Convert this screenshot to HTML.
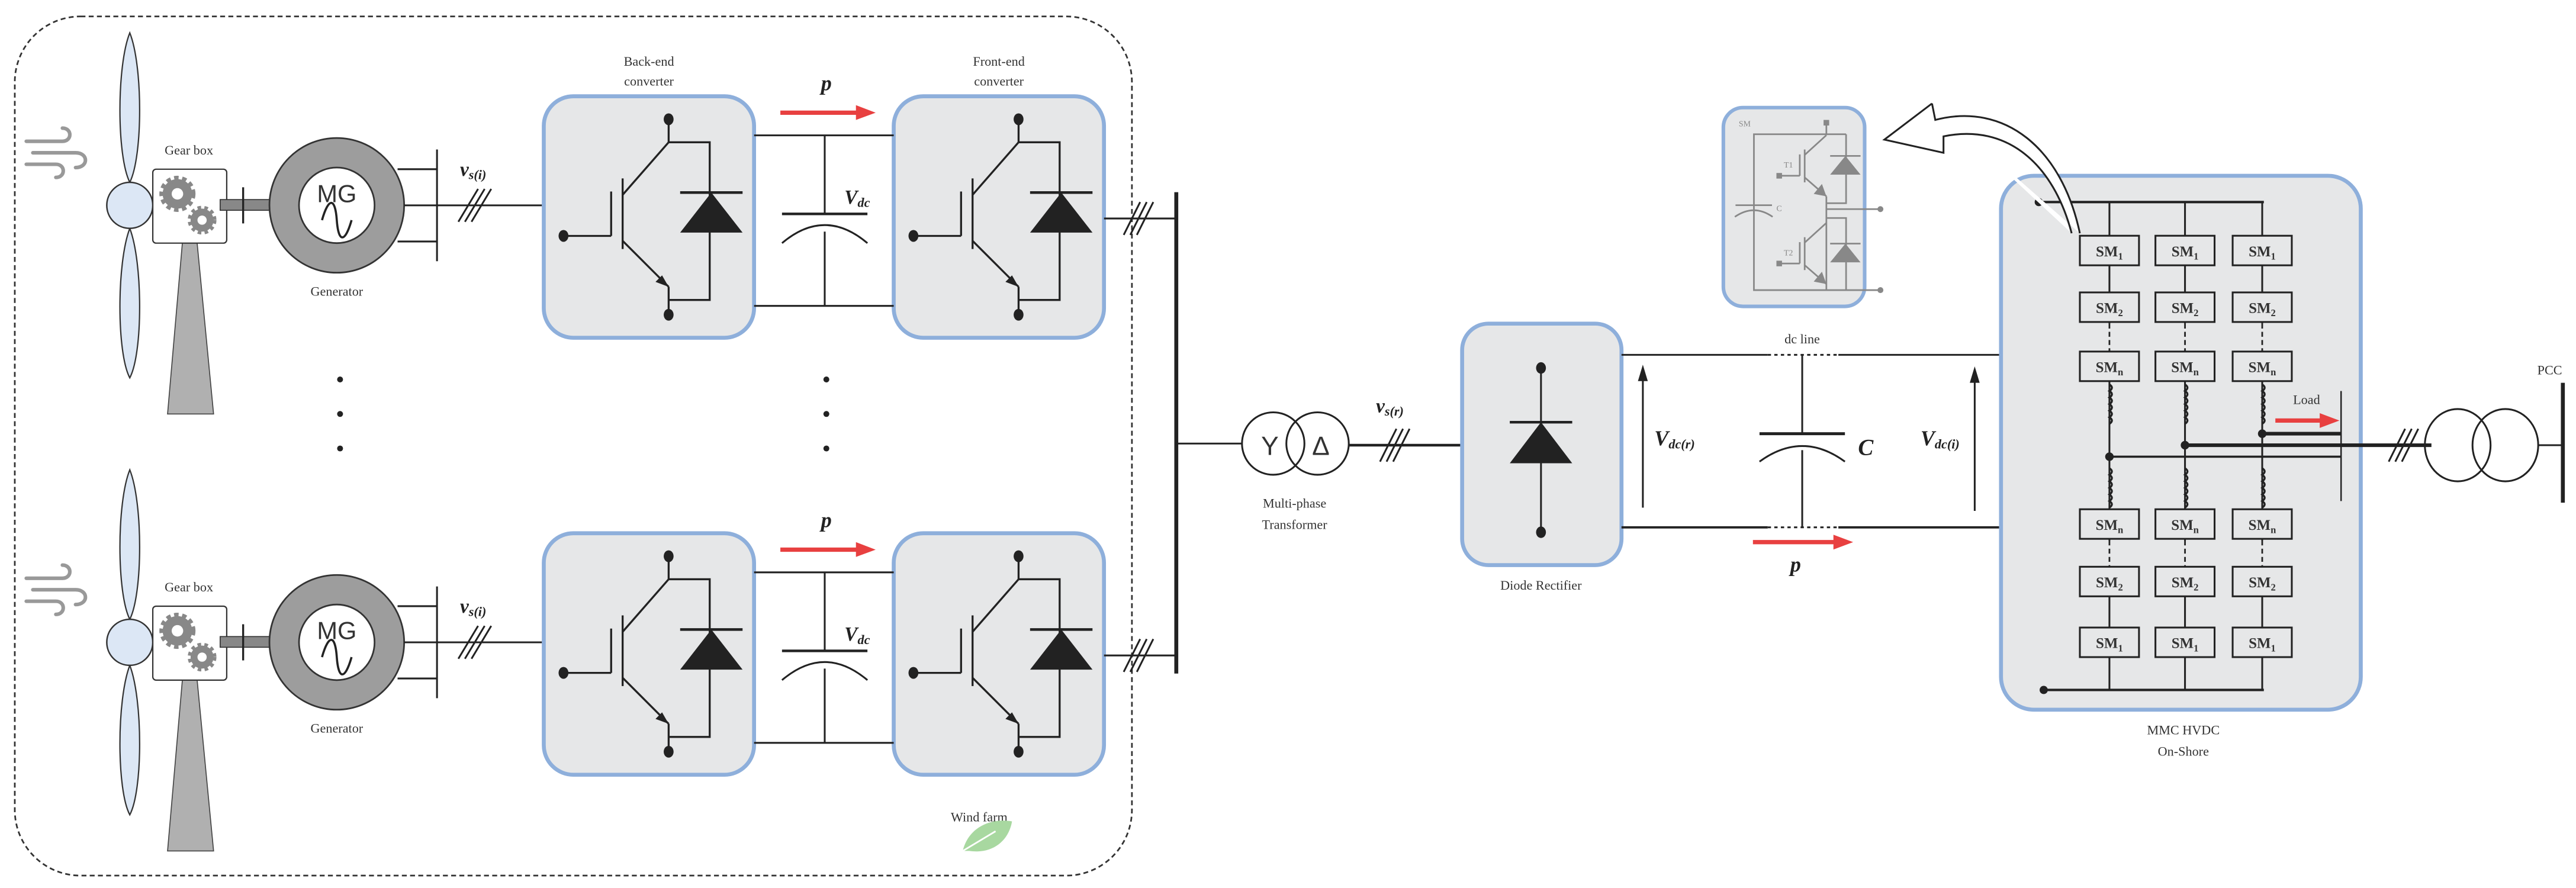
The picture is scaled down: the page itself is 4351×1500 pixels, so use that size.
<!DOCTYPE html>
<html><head><meta charset="utf-8"><style>
html,body{margin:0;padding:0;background:#fff;}
svg{display:block;}
text{font-family:"Liberation Serif",serif;fill:#333;}
.m{font-style:italic;font-weight:bold;fill:#222;}
</style></head><body>
<svg width="4351" height="1500" viewBox="0 0 1568 540.55" preserveAspectRatio="none" xmlns="http://www.w3.org/2000/svg">
<defs>
<g id="conv">
  <rect x="0" y="0" width="128" height="147" rx="18" fill="#e6e7e8" stroke="#8eafdb" stroke-width="2.4"/>
  <g stroke="#222" stroke-width="1.2" fill="none">
    <line x1="76" y1="14" x2="76" y2="28"/>
    <line x1="76" y1="28" x2="48" y2="60"/>
    <line x1="48" y1="50" x2="48" y2="93"/>
    <line x1="41" y1="58" x2="41" y2="85"/>
    <line x1="41" y1="85" x2="12" y2="85"/>
    <line x1="48" y1="88" x2="76" y2="116"/>
    <line x1="76" y1="116" x2="76" y2="133"/>
    <polyline points="76,28 101,28 101,124 76,124"/>
    <line x1="83" y1="58.6" x2="121" y2="58.6" stroke-width="1.6"/>
  </g>
  <polygon points="76,116 68,113 72,109" fill="#222"/>
  <polygon points="102,58.6 83,83 121,83" fill="#222"/>
  <ellipse cx="76" cy="14" rx="3" ry="3.6" fill="#222"/>
  <ellipse cx="76" cy="133" rx="3" ry="3.6" fill="#222"/>
  <ellipse cx="12" cy="85" rx="3" ry="3.6" fill="#222"/>
</g>
<g id="turb">
  <path d="M79,20 C71,40 71,95 79,111 C87,95 87,40 79,20Z" fill="#dce7f5" stroke="#333" stroke-width="0.8"/>
  <path d="M79,139 C71,160 71,215 79,230 C87,215 87,160 79,139Z" fill="#dce7f5" stroke="#333" stroke-width="0.8"/>
  <polygon points="111,148 120,148 130,252 102,252" fill="#b0b0b0" stroke="#444" stroke-width="0.6"/>
  <ellipse cx="79" cy="125" rx="14" ry="14" fill="#dce7f5" stroke="#333" stroke-width="0.9"/>
  <rect x="93" y="103" width="45" height="45" rx="2" fill="#fff" stroke="#333" stroke-width="0.8"/>
  <circle cx="108" cy="118" r="9" fill="#888" stroke="#888" stroke-width="4" stroke-dasharray="2.5 2"/>
  <circle cx="108" cy="118" r="3.5" fill="#fff"/>
  <circle cx="123" cy="134" r="7" fill="#888" stroke="#888" stroke-width="3.5" stroke-dasharray="2 1.8"/>
  <circle cx="123" cy="134" r="2.8" fill="#fff"/>
  <text x="115" y="94" font-size="8" text-anchor="middle">Gear box</text>
  <rect x="134" y="121.5" width="30" height="6.5" fill="#888" stroke="#333" stroke-width="0.6"/>
  <line x1="148" y1="114" x2="148" y2="136" stroke="#222" stroke-width="1.2"/>
  <circle cx="205" cy="125" r="41" fill="#9d9d9d" stroke="#333" stroke-width="1"/>
  <circle cx="205" cy="125" r="23" fill="#fff" stroke="#333" stroke-width="1"/>
  <text x="205" y="123" font-size="15" text-anchor="middle" font-family="Liberation Sans,sans-serif" fill="#333" style="font-family:'Liberation Sans',sans-serif">MG</text>
  <path d="M196,134 C200,120 204,120 205,134 S210,148 214,134" fill="none" stroke="#222" stroke-width="1.3"/>
  <text x="205" y="180" font-size="8" text-anchor="middle">Generator</text>
  <g stroke="#222" stroke-width="1.1">
    <line x1="242" y1="103" x2="266" y2="103"/>
    <line x1="246" y1="125" x2="331" y2="125"/>
    <line x1="242" y1="147" x2="266" y2="147"/>
    <line x1="266" y1="91" x2="266" y2="159"/>
    <line x1="279" y1="135" x2="291" y2="115"/>
    <line x1="283" y1="135" x2="295" y2="115"/>
    <line x1="287" y1="135" x2="299" y2="115"/>
  </g>
  <text x="288" y="107" font-size="12" class="m" text-anchor="middle">v<tspan font-size="8" dy="2">s(i)</tspan></text>
  <g stroke="#999" stroke-width="2.2" fill="none" stroke-linecap="round">
    <path d="M16,86 H38 C44,86 44,78 38,78"/>
    <path d="M20,93 H46 C54,93 54,102 46,102"/>
    <path d="M16,100 H34 C40,100 40,108 34,108"/>
  </g>
  <use href="#conv" x="331" y="58.6"/>
  <use href="#conv" x="544" y="58.6"/>
  <g stroke="#222" stroke-width="1.1">
    <line x1="459" y1="82.4" x2="544" y2="82.4"/>
    <line x1="459" y1="186.2" x2="544" y2="186.2"/>
    <line x1="502" y1="82.4" x2="502" y2="130"/>
    <line x1="502" y1="141" x2="502" y2="186.2"/>
    <line x1="476" y1="130.2" x2="528" y2="130.2" stroke-width="1.6"/>
    <path d="M476,148 Q502,126 528,148" fill="none"/>
    <line x1="672" y1="133" x2="716" y2="133"/>
    <line x1="684" y1="143" x2="694" y2="123"/>
    <line x1="688" y1="143" x2="698" y2="123"/>
    <line x1="692" y1="143" x2="702" y2="123"/>
  </g>
  <text x="514" y="124" font-size="12" class="m">V<tspan font-size="8" dy="2">dc</tspan></text>
  <text x="503" y="55" font-size="13" class="m" text-anchor="middle">p</text>
  <line x1="475" y1="68.6" x2="524" y2="68.6" stroke="#e84040" stroke-width="2.6"/>
  <polygon points="521,64 533,68.6 521,73" fill="#e84040"/>
</g>
</defs>

<rect x="9" y="10" width="680" height="523" rx="40" fill="none" stroke="#333" stroke-width="1" stroke-dasharray="3 2"/>
<use href="#turb"/>
<use href="#turb" y="266"/>
<text x="395" y="40" font-size="8" text-anchor="middle">Back-end</text>
<text x="395" y="52" font-size="8" text-anchor="middle">converter</text>
<text x="608" y="40" font-size="8" text-anchor="middle">Front-end</text>
<text x="608" y="52" font-size="8" text-anchor="middle">converter</text>
<g fill="#222">
<circle cx="207" cy="231" r="1.8"/><circle cx="207" cy="252" r="1.8"/><circle cx="207" cy="273" r="1.8"/>
<circle cx="503" cy="231" r="1.8"/><circle cx="503" cy="252" r="1.8"/><circle cx="503" cy="273" r="1.8"/>
</g>
<text x="596" y="500" font-size="8" text-anchor="middle">Wind farm</text>
<path d="M586,518 C590,502 605,498 616,500 C614,512 604,520 590,518 Z" fill="#a8d8a0"/>
<path d="M586,518 L606,506" stroke="#fff" stroke-width="1"/>

<!-- bus and transformer -->
<line x1="716" y1="117" x2="716" y2="410" stroke="#222" stroke-width="2.4"/>
<g stroke="#222" stroke-width="1.1" fill="none">
<line x1="716" y1="270" x2="756" y2="270"/>
<circle cx="775" cy="270" r="19"/>
<circle cx="802" cy="270" r="19"/>
<line x1="821" y1="271" x2="890" y2="271" stroke-width="1.6"/>
<line x1="840" y1="281" x2="850" y2="261"/><line x1="844" y1="281" x2="854" y2="261"/><line x1="848" y1="281" x2="858" y2="261"/>
</g>
<text x="773" y="277" font-size="16" text-anchor="middle" style="font-family:'Liberation Sans',sans-serif">Y</text>
<text x="804" y="277" font-size="16" text-anchor="middle" style="font-family:'Liberation Sans',sans-serif">Δ</text>
<text x="788" y="309" font-size="8" text-anchor="middle">Multi-phase</text>
<text x="788" y="322" font-size="8" text-anchor="middle">Transformer</text>
<text x="846" y="251" font-size="12" class="m" text-anchor="middle">v<tspan font-size="8" dy="2">s(r)</tspan></text>

<!-- diode rectifier -->
<rect x="890" y="197" width="97" height="147" rx="16" fill="#e6e7e8" stroke="#8eafdb" stroke-width="2.4"/>
<line x1="938" y1="224" x2="938" y2="324" stroke="#222" stroke-width="1.1"/>
<line x1="919" y1="257" x2="957" y2="257" stroke="#222" stroke-width="1.6"/>
<polygon points="938,257 919,282 957,282" fill="#222"/>
<ellipse cx="938" cy="224" rx="3" ry="3.5" fill="#222"/>
<ellipse cx="938" cy="324" rx="3" ry="3.5" fill="#222"/>
<text x="938" y="359" font-size="8" text-anchor="middle">Diode Rectifier</text>

<!-- dc line -->
<g stroke="#222" stroke-width="1.1">
<line x1="987" y1="216" x2="1076" y2="216"/><line x1="1076" y1="216" x2="1119" y2="216" stroke-dasharray="2 2"/><line x1="1119" y1="216" x2="1218" y2="216"/>
<line x1="987" y1="321" x2="1076" y2="321" stroke-width="1.4"/><line x1="1076" y1="321" x2="1119" y2="321" stroke-dasharray="2 2"/><line x1="1119" y1="321" x2="1218" y2="321" stroke-width="1.4"/>
<line x1="1097" y1="216" x2="1097" y2="264"/><line x1="1097" y1="274" x2="1097" y2="321"/>
<line x1="1071" y1="264" x2="1123" y2="264" stroke-width="1.8"/>
<path d="M1071,281 Q1097,262 1123,281" fill="none"/>
<line x1="1000" y1="309" x2="1000" y2="228"/>
<line x1="1202" y1="311" x2="1202" y2="229"/>
</g>
<polygon points="1000,222 997,232 1003,232" fill="#222"/>
<polygon points="1202,223 1199,233 1205,233" fill="#222"/>
<text x="1097" y="209" font-size="8" text-anchor="middle">dc line</text>
<text x="1131" y="277" font-size="14" class="m">C</text>
<text x="1007" y="271" font-size="13" class="m">V<tspan font-size="8" dy="2">dc(r)</tspan></text>
<text x="1169" y="271" font-size="13" class="m">V<tspan font-size="8" dy="2">dc(i)</tspan></text>
<line x1="1067" y1="330" x2="1118" y2="330" stroke="#e84040" stroke-width="2.6"/>
<polygon points="1116,325.5 1128,330 1116,334.5" fill="#e84040"/>
<text x="1093" y="348" font-size="13" class="m" text-anchor="middle">p</text>

<!-- MMC -->
<rect x="1218" y="107" width="219" height="325" rx="20" fill="#e6e7e8" stroke="#8eafdb" stroke-width="2.4"/>
<g stroke="#222" stroke-width="1.1" fill="none">
<line x1="1241" y1="123" x2="1378" y2="123" stroke-width="1.5"/>
<line x1="1244" y1="420" x2="1378" y2="420" stroke-width="1.5"/>
<line x1="1284" y1="123" x2="1284" y2="420"/>
<line x1="1330" y1="123" x2="1330" y2="420"/>
<line x1="1377" y1="123" x2="1377" y2="420"/>
</g>
<circle cx="1241" cy="123" r="2.5" fill="#222"/>
<circle cx="1244" cy="420" r="2.5" fill="#222"/>
<!-- dashed segments (cover solid with bg then dashed) -->
<g stroke="#e6e7e8" stroke-width="2">
<line x1="1284" y1="197" x2="1284" y2="213"/><line x1="1330" y1="197" x2="1330" y2="213"/><line x1="1377" y1="197" x2="1377" y2="213"/>
<line x1="1284" y1="329" x2="1284" y2="345"/><line x1="1330" y1="329" x2="1330" y2="345"/><line x1="1377" y1="329" x2="1377" y2="345"/>
</g>
<g stroke="#222" stroke-width="1" stroke-dasharray="3 2">
<line x1="1284" y1="197" x2="1284" y2="213"/><line x1="1330" y1="197" x2="1330" y2="213"/><line x1="1377" y1="197" x2="1377" y2="213"/>
<line x1="1284" y1="329" x2="1284" y2="345"/><line x1="1330" y1="329" x2="1330" y2="345"/><line x1="1377" y1="329" x2="1377" y2="345"/>
</g>
<!-- inductors -->
<g stroke="#222" stroke-width="1.2" fill="none">
<path id="ind" d="M1284,234 q3,2 0,4 q3,2 0,4 q3,2 0,4 q3,2 0,4 q3,2 0,4 q3,2 0,4"/>
</g>
<g stroke="#222" stroke-width="1.2" fill="none">
<use href="#ind"/><use href="#ind" x="46"/><use href="#ind" x="93"/>
<use href="#ind" y="51"/><use href="#ind" x="46" y="51"/><use href="#ind" x="93" y="51"/>
</g>
<g stroke="#222">
<line x1="1284" y1="278" x2="1425" y2="278" stroke-width="1.3"/>
<line x1="1330" y1="271" x2="1480" y2="271" stroke-width="2.2"/>
<line x1="1377" y1="264" x2="1425" y2="264" stroke-width="2.2"/>
<line x1="1425" y1="238" x2="1425" y2="305" stroke-width="0.9"/>
</g>
<circle cx="1284" cy="278" r="2.6" fill="#222"/>
<circle cx="1330" cy="271" r="2.6" fill="#222"/>
<circle cx="1377" cy="264" r="2.6" fill="#222"/>
<text x="1404" y="246" font-size="8" text-anchor="middle">Load</text>
<line x1="1385" y1="256" x2="1414" y2="256" stroke="#e84040" stroke-width="2.6"/>
<polygon points="1412,251.5 1424,256 1412,260.5" fill="#e84040"/>
<!-- SM boxes -->
<g id="smrow">
<rect x="1266" y="143.5" width="36" height="18" fill="#e6e7e8" stroke="#222" stroke-width="1.1"/>
<rect x="1312" y="143.5" width="36" height="18" fill="#e6e7e8" stroke="#222" stroke-width="1.1"/>
<rect x="1359" y="143.5" width="36" height="18" fill="#e6e7e8" stroke="#222" stroke-width="1.1"/>
</g>
<use href="#smrow" y="34.5"/><use href="#smrow" y="70.5"/><use href="#smrow" y="166.5"/><use href="#smrow" y="201.5"/><use href="#smrow" y="238.5"/>
<g font-size="9" font-weight="bold" text-anchor="middle" fill="#333">
<text x="1284" y="156">SM<tspan font-size="6" dy="2">1</tspan></text><text x="1330" y="156">SM<tspan font-size="6" dy="2">1</tspan></text><text x="1377" y="156">SM<tspan font-size="6" dy="2">1</tspan></text>
<text x="1284" y="190.5">SM<tspan font-size="6" dy="2">2</tspan></text><text x="1330" y="190.5">SM<tspan font-size="6" dy="2">2</tspan></text><text x="1377" y="190.5">SM<tspan font-size="6" dy="2">2</tspan></text>
<text x="1284" y="226.5">SM<tspan font-size="6" dy="2">n</tspan></text><text x="1330" y="226.5">SM<tspan font-size="6" dy="2">n</tspan></text><text x="1377" y="226.5">SM<tspan font-size="6" dy="2">n</tspan></text>
<text x="1284" y="322.5">SM<tspan font-size="6" dy="2">n</tspan></text><text x="1330" y="322.5">SM<tspan font-size="6" dy="2">n</tspan></text><text x="1377" y="322.5">SM<tspan font-size="6" dy="2">n</tspan></text>
<text x="1284" y="357.5">SM<tspan font-size="6" dy="2">2</tspan></text><text x="1330" y="357.5">SM<tspan font-size="6" dy="2">2</tspan></text><text x="1377" y="357.5">SM<tspan font-size="6" dy="2">2</tspan></text>
<text x="1284" y="394.5">SM<tspan font-size="6" dy="2">1</tspan></text><text x="1330" y="394.5">SM<tspan font-size="6" dy="2">1</tspan></text><text x="1377" y="394.5">SM<tspan font-size="6" dy="2">1</tspan></text>
</g>
<text x="1329" y="447" font-size="8" text-anchor="middle">MMC HVDC</text>
<text x="1329" y="460" font-size="8" text-anchor="middle">On-Shore</text>

<!-- PCC -->
<g stroke="#222" stroke-width="1.1" fill="none">
<line x1="1454" y1="281" x2="1464" y2="261"/><line x1="1458" y1="281" x2="1468" y2="261"/><line x1="1462" y1="281" x2="1472" y2="261"/>
<ellipse cx="1496" cy="271" rx="20" ry="22"/>
<ellipse cx="1525" cy="271" rx="20" ry="22"/>
<line x1="1545" y1="271" x2="1560" y2="271"/>
</g>
<line x1="1560" y1="233" x2="1560" y2="306" stroke="#222" stroke-width="2.4"/>
<text x="1552" y="228" font-size="8" text-anchor="middle">PCC</text>

<!-- SM inset -->
<rect x="1049" y="65.5" width="86" height="121" rx="12" fill="#e6e7e8" stroke="#8eafdb" stroke-width="2.2"/>
<g stroke="#888" stroke-width="1" fill="none">
<polyline points="1111.7,75 1111.7,81.7 1067.6,81.7 1067.6,176.6 1144.6,176.6"/>
<line x1="1111.7" y1="81.7" x2="1123.7" y2="81.7"/>
<line x1="1111.7" y1="82.3" x2="1098.5" y2="94.3"/>
<line x1="1098.5" y1="91" x2="1098.5" y2="111"/>
<line x1="1095.5" y1="94" x2="1095.5" y2="107"/>
<line x1="1095.5" y1="107" x2="1083" y2="107"/>
<line x1="1098.5" y1="108" x2="1111.7" y2="119.5"/>
<polyline points="1111.7,119.5 1111.7,176.6"/>
<polyline points="1123.7,81.7 1123.7,123.7 1111.7,123.7"/>
<line x1="1111.7" y1="127.3" x2="1144.6" y2="127.3"/>
<polyline points="1111.7,132.7 1123.7,132.7 1123.7,176.6"/>
<line x1="1111.7" y1="135.7" x2="1098.5" y2="147.7"/>
<line x1="1098.5" y1="144.4" x2="1098.5" y2="164.4"/>
<line x1="1095.5" y1="147.4" x2="1095.5" y2="160.4"/>
<line x1="1095.5" y1="160.4" x2="1083" y2="160.4"/>
<line x1="1098.5" y1="161.4" x2="1111.7" y2="172.9"/>
<line x1="1114" y1="94.9" x2="1132.5" y2="94.9"/>
<line x1="1114" y1="148.3" x2="1132.5" y2="148.3"/>
<line x1="1056.4" y1="124.9" x2="1078.6" y2="124.9"/>
<path d="M1056,132 Q1067.6,124 1079,132"/>
</g>
<g fill="#888">
<rect x="1110" y="73" width="3.4" height="3.4"/>
<rect x="1081.3" y="105.3" width="3.4" height="3.4"/>
<rect x="1081.3" y="158.7" width="3.4" height="3.4"/>
<circle cx="1144.6" cy="127.3" r="1.8"/><circle cx="1144.6" cy="176.6" r="1.8"/>
<polygon points="1123.3,94.9 1114,106.3 1132.5,106.3"/>
<polygon points="1123.3,148.3 1114,159.7 1132.5,159.7"/>
<polygon points="1111.7,119.5 1104,118 1109,112"/>
<polygon points="1111.7,172.9 1104,171.4 1109,165.4"/>
</g>
<g font-size="5" fill="#888" text-anchor="middle"><text x="1062" y="77" style="fill:#888">SM</text><text x="1088.6" y="102" style="fill:#888">T1</text><text x="1088.6" y="155.5" style="fill:#888">T2</text><text x="1083" y="128.5" style="fill:#888">C</text></g>

<!-- curved arrow -->
<path d="M1176,63 L1178,73 C1220,62 1255,90 1266,142 M1261,142 C1250,100 1222,75 1183,83 L1183,93 L1147,85 L1176,63" fill="#fff" stroke="#222" stroke-width="1.1" stroke-linejoin="miter"/>
</svg>
</body></html>
